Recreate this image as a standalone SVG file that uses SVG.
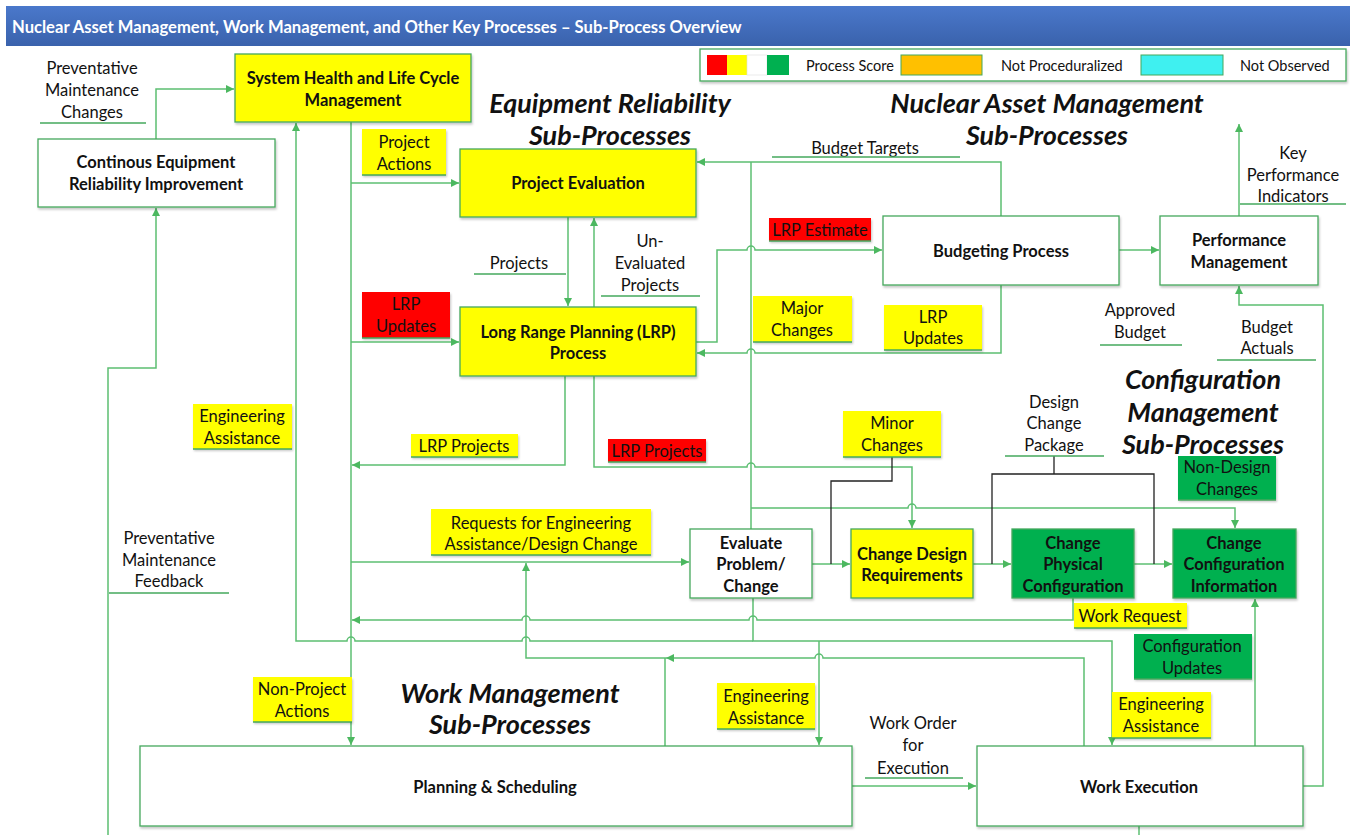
<svg xmlns="http://www.w3.org/2000/svg" width="1354" height="835" viewBox="0 0 1354 835">
<defs>
<linearGradient id="tg" x1="0" y1="0" x2="0" y2="1"><stop offset="0" stop-color="#4A78CB"/><stop offset="1" stop-color="#3A62AC"/></linearGradient>
<filter id="sh" x="-5%" y="-5%" width="115%" height="130%"><feDropShadow dx="1" dy="2" stdDeviation="1.2" flood-color="#000" flood-opacity="0.22"/></filter>
<marker id="ar" viewBox="0 0 10 10" refX="10" refY="5" markerWidth="9" markerHeight="8" markerUnits="userSpaceOnUse" orient="auto"><path d="M0,0 L10,5 L0,10 z" fill="#4CB860"/></marker>
</defs>
<style>
.bx{stroke:#45A85C;stroke-width:1.3;filter:url(#sh)}
.w{fill:#fff}.y{fill:#FFFF00}.r{fill:#FF0000}.g{fill:#00B050}
.lb{stroke:none;filter:url(#sh)}
.ul{stroke:#45A85C;stroke-width:1.5}
.c{fill:none;stroke:#5CBF72;stroke-width:1.5}
.k{fill:none;stroke:#222;stroke-width:1.3}
text{font-family:Lato,"Open Sans","Liberation Sans",sans-serif;fill:#111;text-anchor:middle;dominant-baseline:central}
.n{font-size:16.5px;font-weight:bold}
.t{font-size:16.5px}
.h{font-size:27px;font-weight:bold;font-style:italic}
.lg{font-size:14.5px;text-anchor:start}
</style>
<rect width="1354" height="835" fill="#fff"/>
<g id="title">
<rect x="6" y="6" width="1344" height="40" fill="url(#tg)"/>
<text x="12" y="27" style="fill:#fff;font-size:16.6px;font-weight:bold;text-anchor:start">Nuclear Asset Management, Work Management, and Other Key Processes – Sub-Process Overview</text>
</g>
<g id="legend">
<rect x="700" y="49" width="646" height="32" fill="#fff" stroke="#45A85C" stroke-width="1.3" filter="url(#sh)"/>
<rect x="707" y="55" width="20" height="20" fill="#FF0000"/>
<rect x="727" y="55" width="20" height="20" fill="#FFFF00"/>
<rect x="747" y="55" width="20" height="20" fill="#fff" stroke="#ddd" stroke-width="0.6"/>
<rect x="767" y="55" width="22" height="20" fill="#00B050"/>
<text class="lg" x="806" y="65">Process Score</text>
<rect x="901" y="55" width="81" height="20" fill="#FFC000" stroke="#45A85C" stroke-width="1"/>
<text class="lg" x="1001" y="65">Not Proceduralized</text>
<rect x="1141" y="55" width="82" height="20" fill="#3FF0F0" stroke="#45A85C" stroke-width="1"/>
<text class="lg" x="1240" y="65">Not Observed</text>
</g>
<g id="connectors">
<path class="c" d="M156,139 V89 H234" marker-end="url(#ar)"/>
<path class="c" d="M108,835 V368 H156 V208" marker-end="url(#ar)"/>
<path class="c" d="M351,122 V745" marker-end="url(#ar)"/>
<path class="c" d="M351,183 H459" marker-end="url(#ar)"/>
<path class="c" d="M351,342 H459" marker-end="url(#ar)"/>
<path class="c" d="M351,562 H689" marker-end="url(#ar)"/>
<path class="c" d="M565,376 V465 H352" marker-end="url(#ar)"/>
<path class="c" d="M753,598 V641 H1112 V745" marker-end="url(#ar)"/>
<path class="c" d="M753,641 H530 a4,4 0 0 0 -8,0 H355 a4,4 0 0 0 -8,0 H296 V123" marker-end="url(#ar)"/>
<path class="c" d="M819,641 V745" marker-end="url(#ar)"/>
<path class="c" d="M1084,746 V658 H823 a4,4 0 0 0 -8,0 H666" marker-end="url(#ar)"/>
<path class="c" d="M666,658 H526 V563" marker-end="url(#ar)"/>
<path class="c" d="M665,746 V658"/>
<path class="c" d="M1073,598 V620 H757 a4,4 0 0 0 -8,0 H530 a4,4 0 0 0 -8,0 H352" marker-end="url(#ar)"/>
<path class="c" d="M812,564 H850" marker-end="url(#ar)"/>
<path class="c" d="M973,564 H1011" marker-end="url(#ar)"/>
<path class="c" d="M1134,564 H1172" marker-end="url(#ar)"/>
<path class="c" d="M751,529 V162"/>
<path class="c" d="M1001,216 V162 H697" marker-end="url(#ar)"/>
<path class="c" d="M751,508 H908 a4,4 0 0 1 8,0 H1235 V528" marker-end="url(#ar)"/>
<path class="c" d="M696,342 H717 V250 H747 a4,4 0 0 1 8,0 H882" marker-end="url(#ar)"/>
<path class="c" d="M1001,285 V353 H755 a4,4 0 0 0 -8,0 H697" marker-end="url(#ar)"/>
<path class="c" d="M568,217 V306" marker-end="url(#ar)"/>
<path class="c" d="M594,307 V218" marker-end="url(#ar)"/>
<path class="c" d="M594,376 V467 H747 a4,4 0 0 1 8,0 H912 V528" marker-end="url(#ar)"/>
<path class="c" d="M1119,250 H1159" marker-end="url(#ar)"/>
<path class="c" d="M1239,216 V124" marker-end="url(#ar)"/>
<path class="c" d="M1303,786 H1323 V305 H1239 V286" marker-end="url(#ar)"/>
<path class="c" d="M1255,746 V599" marker-end="url(#ar)"/>
<path class="c" d="M852,786 H976" marker-end="url(#ar)"/>
<path class="c" d="M1139,826 V835"/>
<path class="k" d="M892,457 V481 H831 V564"/>
<path class="k" d="M1054,456 V474"/>
<path class="k" d="M992,564 V474 H1154 V564"/>
</g>
<g id="n-shlc"><rect class="bx y" x="235" y="54" width="236" height="68"/><text class="n" x="353" y="78">System Health and Life Cycle</text><text class="n" x="353" y="100">Management</text></g>
<g id="n-cer"><rect class="bx w" x="38" y="139" width="237" height="68"/><text class="n" x="156" y="162">Continous Equipment</text><text class="n" x="156" y="184">Reliability Improvement</text></g>
<g id="n-pe"><rect class="bx y" x="460" y="149" width="236" height="68"/><text class="n" x="578" y="183">Project Evaluation</text></g>
<g id="n-lrp"><rect class="bx y" x="460" y="307" width="236" height="69"/><text class="n" x="578" y="332">Long Range Planning (LRP)</text><text class="n" x="578" y="353">Process</text></g>
<g id="n-bp"><rect class="bx w" x="883" y="216" width="236" height="69"/><text class="n" x="1001" y="251">Budgeting Process</text></g>
<g id="n-pm"><rect class="bx w" x="1160" y="216" width="158" height="69"/><text class="n" x="1239" y="240">Performance</text><text class="n" x="1239" y="262">Management</text></g>
<g id="n-epc"><rect class="bx w" x="690" y="529" width="122" height="69"/><text class="n" x="751" y="543">Evaluate</text><text class="n" x="751" y="564">Problem/</text><text class="n" x="751" y="586">Change</text></g>
<g id="n-cdr"><rect class="bx y" x="851" y="529" width="122" height="69"/><text class="n" x="912" y="554">Change Design</text><text class="n" x="912" y="575">Requirements</text></g>
<g id="n-cpc"><rect class="bx g" x="1012" y="529" width="122" height="69"/><text class="n" x="1073" y="543">Change</text><text class="n" x="1073" y="564">Physical</text><text class="n" x="1073" y="586">Configuration</text></g>
<g id="n-cci"><rect class="bx g" x="1173" y="529" width="123" height="69"/><text class="n" x="1234" y="543">Change</text><text class="n" x="1234" y="564">Configuration</text><text class="n" x="1234" y="586">Information</text></g>
<g id="n-ps"><rect class="bx w" x="140" y="746" width="712" height="80"/><text class="n" x="495" y="787">Planning &amp; Scheduling</text></g>
<g id="n-we"><rect class="bx w" x="977" y="746" width="326" height="80"/><text class="n" x="1139" y="787">Work Execution</text></g>
<g id="labels">
<text class="t" x="92" y="68">Preventative</text><text class="t" x="92" y="90">Maintenance</text><text class="t" x="92" y="112">Changes</text><line class="ul" x1="40" y1="123" x2="146" y2="123"/>
<rect class="lb y" x="362" y="129" width="84" height="46"/><line class="ul" x1="362" y1="175" x2="446" y2="175"/><text class="t" x="404" y="142">Project</text><text class="t" x="404" y="164">Actions</text>
<text class="t" x="865" y="148">Budget Targets</text><line class="ul" x1="772" y1="157" x2="960" y2="157"/>
<rect class="lb r" x="769" y="218" width="102" height="23"/><line class="ul" x1="769" y1="241" x2="871" y2="241"/><text class="t" x="820" y="230">LRP Estimate</text>
<text class="t" x="519" y="263">Projects</text><line class="ul" x1="474" y1="274" x2="566" y2="274"/>
<text class="t" x="650" y="241">Un-</text><text class="t" x="650" y="263">Evaluated</text><text class="t" x="650" y="285">Projects</text><line class="ul" x1="601" y1="296" x2="700" y2="296"/>
<rect class="lb r" x="362" y="292" width="88" height="46"/><line class="ul" x1="362" y1="338" x2="450" y2="338"/><text class="t" x="406" y="304">LRP</text><text class="t" x="406" y="326">Updates</text>
<rect class="lb y" x="753" y="296" width="99" height="46"/><line class="ul" x1="753" y1="342" x2="852" y2="342"/><text class="t" x="802" y="308">Major</text><text class="t" x="802" y="330">Changes</text>
<rect class="lb y" x="884" y="305" width="98" height="45"/><line class="ul" x1="884" y1="350" x2="982" y2="350"/><text class="t" x="933" y="317">LRP</text><text class="t" x="933" y="338">Updates</text>
<text class="t" x="1293" y="153">Key</text><text class="t" x="1293" y="175">Performance</text><text class="t" x="1293" y="196">Indicators</text><line class="ul" x1="1240" y1="204" x2="1346" y2="204"/>
<text class="t" x="1140" y="310">Approved</text><text class="t" x="1140" y="332">Budget</text><line class="ul" x1="1100" y1="345" x2="1182" y2="345"/>
<text class="t" x="1267" y="327">Budget</text><text class="t" x="1267" y="348">Actuals</text><line class="ul" x1="1217" y1="360" x2="1316" y2="360"/>
<rect class="lb y" x="193" y="404" width="99" height="45"/><line class="ul" x1="193" y1="449" x2="292" y2="449"/><text class="t" x="242" y="416">Engineering</text><text class="t" x="242" y="438">Assistance</text>
<rect class="lb y" x="411" y="434" width="107" height="23"/><line class="ul" x1="411" y1="457" x2="518" y2="457"/><text class="t" x="464" y="446">LRP Projects</text>
<rect class="lb r" x="608" y="439" width="98" height="23"/><line class="ul" x1="608" y1="462" x2="706" y2="462"/><text class="t" x="657" y="451">LRP Projects</text>
<rect class="lb y" x="843" y="411" width="98" height="46"/><line class="ul" x1="843" y1="457" x2="941" y2="457"/><text class="t" x="892" y="423">Minor</text><text class="t" x="892" y="445">Changes</text>
<text class="t" x="1054" y="402">Design</text><text class="t" x="1054" y="423">Change</text><text class="t" x="1054" y="445">Package</text><line class="ul" x1="1005" y1="456" x2="1104" y2="456"/>
<rect class="lb g" x="1178" y="456" width="98" height="44"/><line class="ul" x1="1178" y1="500" x2="1276" y2="500"/><text class="t" x="1227" y="467">Non-Design</text><text class="t" x="1227" y="489">Changes</text>
<rect class="lb y" x="431" y="509" width="220" height="46"/><line class="ul" x1="431" y1="555" x2="651" y2="555"/><text class="t" x="541" y="523">Requests for Engineering</text><text class="t" x="541" y="544">Assistance/Design Change</text>
<text class="t" x="169" y="538">Preventative</text><text class="t" x="169" y="560">Maintenance</text><text class="t" x="169" y="581">Feedback</text><line class="ul" x1="109" y1="593" x2="229" y2="593"/>
<rect class="lb y" x="1074" y="603" width="113" height="25"/><line class="ul" x1="1074" y1="628" x2="1187" y2="628"/><text class="t" x="1130" y="616">Work Request</text>
<rect class="lb g" x="1134" y="634" width="118" height="45"/><line class="ul" x1="1134" y1="679" x2="1252" y2="679"/><text class="t" x="1192" y="646">Configuration</text><text class="t" x="1192" y="668">Updates</text>
<rect class="lb y" x="253" y="677" width="99" height="45"/><line class="ul" x1="253" y1="722" x2="352" y2="722"/><text class="t" x="302" y="689">Non-Project</text><text class="t" x="302" y="711">Actions</text>
<rect class="lb y" x="717" y="683" width="98" height="46"/><line class="ul" x1="717" y1="729" x2="815" y2="729"/><text class="t" x="766" y="696">Engineering</text><text class="t" x="766" y="718">Assistance</text>
<text class="t" x="913" y="723">Work Order</text><text class="t" x="913" y="745">for</text><text class="t" x="913" y="768">Execution</text><line class="ul" x1="865" y1="778" x2="963" y2="778"/>
<rect class="lb y" x="1112" y="692" width="99" height="46"/><line class="ul" x1="1112" y1="738" x2="1211" y2="738"/><text class="t" x="1161" y="704">Engineering</text><text class="t" x="1161" y="726">Assistance</text>
</g>
<g id="headings">
<text class="h" x="610" y="102">Equipment Reliability</text><text class="h" x="610" y="134">Sub-Processes</text>
<text class="h" x="1047" y="102">Nuclear Asset Management</text><text class="h" x="1047" y="134">Sub-Processes</text>
<text class="h" x="1203" y="378">Configuration</text><text class="h" x="1203" y="411">Management</text><text class="h" x="1203" y="443">Sub-Processes</text>
<text class="h" x="510" y="692">Work Management</text><text class="h" x="510" y="723">Sub-Processes</text>
</g>
</svg>
